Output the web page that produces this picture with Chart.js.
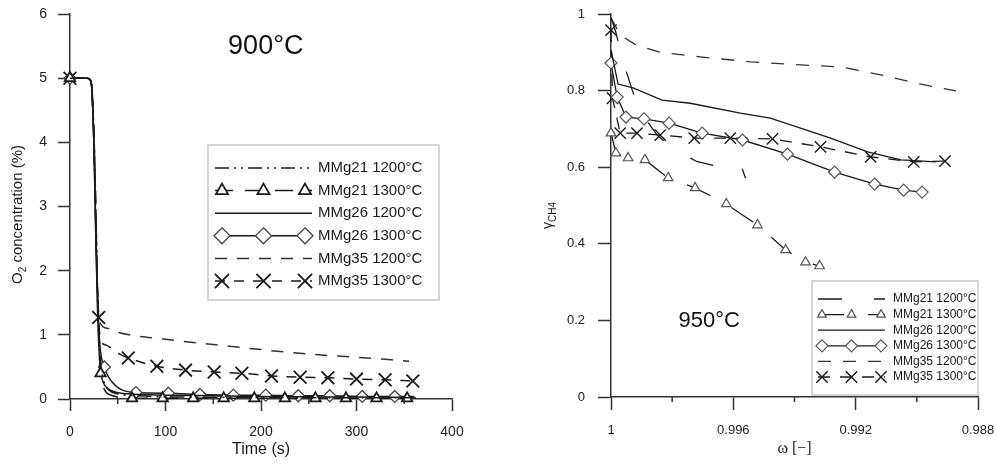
<!DOCTYPE html>
<html>
<head>
<meta charset="utf-8">
<script src="https://cdn.jsdelivr.net/npm/chart.js@4.4.1/dist/chart.umd.min.js"></script>
<style>
  html, body { margin: 0; padding: 0; background: #fff; }
  #wrap { position: relative; width: 996px; height: 464px; }
  #chartLeft { position: absolute; left: 0; top: 0; }
  #chartRight { position: absolute; left: 496px; top: 0; }
</style>
</head>
<body>
<div id="wrap">
  <canvas id="chartLeft" width="490" height="464"></canvas>
  <canvas id="chartRight" width="500" height="464"></canvas>
</div>
<script>
// ---- left panel: O2 concentration vs time (900°C) ----
const seriesLabels = ['MMg21 1200°C', 'MMg21 1300°C', 'MMg26 1200°C', 'MMg26 1300°C', 'MMg35 1200°C', 'MMg35 1300°C'];
const timeTicks = [0, 100, 200, 300, 400];
const timeMinor = [50, 150, 250, 350];
const o2Ticks = [0, 1, 2, 3, 4, 5, 6];

const t21a = [0, 18, 22, 25, 27, 29, 31, 33, 36, 40, 50, 70, 120, 200, 280, 355];
const o21a = [5.0, 5.0, 4.95, 4.2, 3.0, 1.6, 0.8, 0.45, 0.25, 0.15, 0.08, 0.05, 0.03, 0.025, 0.02, 0.02];

const t21b = [0, 18, 22, 25, 28, 30, 32, 36, 45, 65, 97, 129, 161, 193, 225, 257, 289, 321, 353];
const o21b = [5.0, 5.0, 4.95, 4.0, 2.0, 1.0, 0.4, 0.15, 0.05, 0.01, 0.01, 0.01, 0.01, 0.01, 0.01, 0.01, 0.01, 0.01, 0.01];
const m21b = [0, 32, 65, 97, 129, 161, 193, 225, 257, 289, 321, 353];

const t26a = [0, 18, 22, 25, 27, 29, 31, 33, 37, 45, 60, 100, 150, 200, 250, 300, 362];
const o26a = [5.0, 5.0, 4.95, 4.0, 2.5, 1.3, 0.6, 0.35, 0.2, 0.12, 0.08, 0.06, 0.05, 0.04, 0.035, 0.03, 0.025];

const t26b = [0, 18, 22, 25, 28, 31, 36, 45, 69, 103, 136, 171, 205, 239, 272, 306, 340, 360];
const o26b = [5.0, 5.0, 4.95, 4.0, 2.0, 0.9, 0.5, 0.25, 0.1, 0.09, 0.07, 0.06, 0.06, 0.05, 0.05, 0.04, 0.04, 0.04];
const m26b = [0, 36, 69, 103, 136, 171, 205, 239, 272, 306, 340];

const t35a = [0, 18, 22, 25, 27, 29, 31, 40, 50, 100, 150, 200, 250, 300, 355];
const o35a = [5.0, 5.0, 4.95, 4.2, 3.0, 1.6, 1.2, 1.1, 1.04, 0.93, 0.85, 0.77, 0.7, 0.65, 0.59];

const t35b = [0, 18, 22, 25, 28, 30, 32, 38, 45, 52, 61, 91, 121, 151, 180, 211, 241, 270, 300, 330, 359];
const o35b = [5.0, 5.0, 4.95, 4.0, 2.2, 1.27, 0.92, 0.84, 0.77, 0.70, 0.64, 0.51, 0.45, 0.42, 0.40, 0.36, 0.34, 0.33, 0.31, 0.30, 0.28];
const m35b = [0, 30, 61, 91, 121, 151, 180, 211, 241, 270, 300, 330, 359];

// ---- right panel: gamma CH4 vs omega (950°C) ----
const omegaTicks = [0.988, 0.992, 0.996, 1.0];
const omegaMinor = [0.990, 0.994, 0.998];
const gammaTicks = [0, 0.2, 0.4, 0.6, 0.8, 1.0];

const w21a = [1.0, 0.99985, 0.99962, 0.9993, 0.99905, 0.9985, 0.998, 0.9972, 0.9963, 0.99575, 0.9956];
const g21a = [0.99, 0.955, 0.88, 0.80, 0.745, 0.685, 0.65, 0.615, 0.598, 0.605, 0.571];

const w21b = [1.0, 0.99984, 0.99944, 0.99889, 0.99813, 0.99725, 0.99623, 0.99521, 0.99429, 0.99364, 0.99318];
const g21b = [0.689, 0.637, 0.624, 0.619, 0.572, 0.546, 0.504, 0.449, 0.384, 0.352, 0.342];

const w26a = [1.0, 0.99977, 0.99928, 0.99833, 0.99741, 0.99577, 0.99479, 0.99282, 0.99161, 0.99052, 0.98938];
const g26a = [0.906, 0.817, 0.807, 0.775, 0.767, 0.741, 0.728, 0.676, 0.640, 0.619, 0.614];

const w26b = [1.0, 0.9998, 0.99951, 0.99892, 0.9981, 0.99702, 0.9957, 0.99423, 0.99269, 0.99138, 0.99043, 0.98983];
const g26b = [0.872, 0.783, 0.731, 0.726, 0.715, 0.689, 0.671, 0.634, 0.587, 0.556, 0.540, 0.535];

const w35a = [1.0, 0.9997, 0.99918, 0.99839, 0.99708, 0.99544, 0.9938, 0.99249, 0.99118, 0.98987, 0.98872];
const g35a = [0.99, 0.945, 0.919, 0.90, 0.888, 0.875, 0.867, 0.862, 0.841, 0.817, 0.799];

const w35b = [1.0, 0.99995, 0.9997, 0.99915, 0.99839, 0.99728, 0.9961, 0.99472, 0.99315, 0.99151, 0.9901, 0.98908];
const g35b = [0.958, 0.78, 0.689, 0.689, 0.684, 0.676, 0.676, 0.674, 0.653, 0.627, 0.614, 0.616];

const FONT = 'Liberation Sans, Arial, sans-serif';
const INK = '#1a1a1a';
const AXIS = '#333';

function pts(xs, ys) { return xs.map((x, i) => ({ x: x, y: ys[i] })); }
function markAt(list, r) { return c => (c.raw && list.includes(c.raw.x) ? r : 0); }

function drawMarker(ctx, style, x, y, r) {
  ctx.beginPath();
  if (style === 'triangle') {
    ctx.moveTo(x, y - r); ctx.lineTo(x + r * 0.866, y + r * 0.5); ctx.lineTo(x - r * 0.866, y + r * 0.5);
    ctx.closePath(); ctx.fill(); ctx.stroke();
  } else if (style === 'rectRot') {
    ctx.moveTo(x, y - r); ctx.lineTo(x + r, y); ctx.lineTo(x, y + r); ctx.lineTo(x - r, y);
    ctx.closePath(); ctx.fill(); ctx.stroke();
  } else if (style === 'crossRot') {
    const d = r * 0.7071;
    ctx.moveTo(x - d, y - d); ctx.lineTo(x + d, y + d); ctx.moveTo(x + d, y - d); ctx.lineTo(x - d, y + d);
    ctx.stroke();
  }
}

// short minor ticks under the x axis
const minorTicks = {
  id: 'minorTicks',
  afterDraw(chart, args, o) {
    const s = chart.scales.x, ctx = chart.ctx;
    ctx.save();
    ctx.strokeStyle = AXIS; ctx.lineWidth = 1.5;
    o.values.forEach(v => {
      const px = s.getPixelForValue(v);
      ctx.beginPath(); ctx.moveTo(px, s.top); ctx.lineTo(px, s.top + o.length); ctx.stroke();
    });
    ctx.restore();
  }
};

// rotated y title with subscript parts
const axisLabel = {
  id: 'axisLabel',
  afterDraw(chart, args, o) {
    const ctx = chart.ctx, ca = chart.chartArea;
    ctx.save();
    ctx.translate(o.x, (ca.top + ca.bottom) / 2 + o.dy);
    ctx.rotate(-Math.PI / 2);
    ctx.fillStyle = INK; ctx.textBaseline = 'middle'; ctx.textAlign = 'left';
    let total = 0;
    o.parts.forEach(p => { ctx.font = (p.sub ? o.subSize : o.size) + 'px ' + FONT; total += ctx.measureText(p.text).width; });
    let x = -total / 2;
    o.parts.forEach(p => {
      ctx.font = (p.sub ? o.subSize : o.size) + 'px ' + FONT;
      ctx.fillText(p.text, x, p.sub ? o.size * 0.35 : 0);
      x += ctx.measureText(p.text).width;
    });
    ctx.restore();
  }
};

// temperature note placed in data coordinates
const textNote = {
  id: 'textNote',
  afterDraw(chart, args, o) {
    const ctx = chart.ctx;
    ctx.save();
    ctx.font = o.size + 'px ' + FONT; ctx.fillStyle = '#111';
    ctx.textAlign = 'center'; ctx.textBaseline = 'middle';
    ctx.fillText(o.text, chart.scales.x.getPixelForValue(o.x), chart.scales.y.getPixelForValue(o.y));
    ctx.restore();
  }
};

// boxed legend with line samples and three markers
const boxLegend = {
  id: 'boxLegend',
  afterDraw(chart, args, o) {
    const ctx = chart.ctx, ca = chart.chartArea;
    const bx = ca.left + o.left, by = ca.top + o.top;
    ctx.save();
    ctx.fillStyle = '#fff'; ctx.fillRect(bx, by, o.width, o.height);
    ctx.strokeStyle = '#c8c8c8'; ctx.lineWidth = 1.5; ctx.strokeRect(bx, by, o.width, o.height);
    chart.data.datasets.forEach((ds, i) => {
      const y = by + o.firstRow + i * o.rowGap;
      const x0 = bx + o.sampleStart, x1 = bx + o.sampleEnd;
      ctx.strokeStyle = ds.borderColor; ctx.lineWidth = ds.borderWidth;
      ctx.setLineDash(ds.borderDash || []);
      ctx.beginPath(); ctx.moveTo(x0, y); ctx.lineTo(x1, y); ctx.stroke();
      ctx.setLineDash([]);
      if (ds.pointStyle) {
        ctx.strokeStyle = ds.pointBorderColor; ctx.fillStyle = '#fff'; ctx.lineWidth = ds.pointBorderWidth;
        [x0 + o.inset, (x0 + x1) / 2, x1 - o.inset].forEach(px => drawMarker(ctx, ds.pointStyle, px, y, o.radius[ds.pointStyle]));
      }
      ctx.fillStyle = INK; ctx.font = o.font + 'px ' + FONT;
      ctx.textBaseline = 'middle'; ctx.textAlign = 'left';
      ctx.fillText(ds.label, bx + o.textX, y);
    });
    ctx.restore();
  }
};

function axisBase(fontSize, tickLen, pad) {
  return {
    grid: { display: true, drawOnChartArea: false, drawTicks: true, tickLength: tickLen, tickWidth: 1.5, tickColor: AXIS },
    border: { display: true, color: AXIS, width: 1.5 },
    ticks: { color: '#222', font: { family: FONT, size: fontSize }, padding: pad, maxRotation: 0 }
  };
}

// ---------- left chart ----------
const lx = axisBase(14, 12, 13), ly = axisBase(14, 12, 11);
new Chart(document.getElementById('chartLeft').getContext('2d'), {
  type: 'line',
  data: {
    datasets: [
      { label: seriesLabels[0], data: pts(t21a, o21a), borderColor: INK, borderWidth: 1.5,
        borderDash: [14, 5, 2, 5, 2, 5], pointRadius: 0, cubicInterpolationMode: 'monotone' },
      { label: seriesLabels[1], data: pts(t21b, o21b), borderColor: INK, borderWidth: 1.5,
        borderDash: [18, 12], pointStyle: 'triangle', pointRadius: markAt(m21b, 6),
        pointBorderColor: INK, pointBackgroundColor: '#fff', pointBorderWidth: 1.8, cubicInterpolationMode: 'monotone' },
      { label: seriesLabels[2], data: pts(t26a, o26a), borderColor: INK, borderWidth: 1.5,
        pointRadius: 0, cubicInterpolationMode: 'monotone' },
      { label: seriesLabels[3], data: pts(t26b, o26b), borderColor: INK, borderWidth: 1.5,
        pointStyle: 'rectRot', pointRadius: markAt(m26b, 6),
        pointBorderColor: '#444', pointBackgroundColor: '#fff', pointBorderWidth: 1.3, cubicInterpolationMode: 'monotone' },
      { label: seriesLabels[4], data: pts(t35a, o35a), borderColor: '#333', borderWidth: 1.5,
        borderDash: [12, 10], pointRadius: 0, cubicInterpolationMode: 'monotone' },
      { label: seriesLabels[5], data: pts(t35b, o35b), borderColor: INK, borderWidth: 1.5,
        borderDash: [10, 9], pointStyle: 'crossRot', pointRadius: markAt(m35b, 9),
        pointBorderColor: INK, pointBorderWidth: 1.8, cubicInterpolationMode: 'monotone' }
    ]
  },
  options: {
    responsive: false,
    animation: false,
    clip: false,
    layout: { padding: { top: 14, right: 38, bottom: 0, left: 0 } },
    plugins: {
      legend: { display: false },
      tooltip: { enabled: false },
      minorTicks: { values: timeMinor, length: 5 },
      axisLabel: { x: 18, dy: 8, size: 15, subSize: 10, parts: [{ text: 'O' }, { text: '2', sub: true }, { text: ' concentration (%)' }] },
      textNote: { text: '900°C', x: 205, y: 5.5, size: 27 },
      boxLegend: { left: 138, top: 131, width: 231, height: 155, firstRow: 23, rowGap: 22.6,
        sampleStart: 7, sampleEnd: 104, inset: 7, textX: 110, font: 15,
        radius: { triangle: 7, rectRot: 8, crossRot: 10 } }
    },
    scales: {
      x: Object.assign(lx, {
        type: 'linear', min: 0, max: 400,
        afterBuildTicks: s => { s.ticks = timeTicks.map(v => ({ value: v })); },
        afterFit: s => { s.height = 65; },
        title: { display: true, text: 'Time (s)', color: INK, font: { family: FONT, size: 16 }, padding: { top: 0, bottom: 5 } }
      }),
      y: Object.assign(ly, {
        type: 'linear', min: 0, max: 6,
        afterBuildTicks: s => { s.ticks = o2Ticks.map(v => ({ value: v })); },
        afterFit: s => { s.width = 70; s.paddingTop = 0; s.paddingBottom = 0; }
      })
    }
  },
  plugins: [minorTicks, axisLabel, textNote, boxLegend]
});

// ---------- right chart ----------
const rx = axisBase(13, 13, 13), ry = axisBase(13, 13, 13);
new Chart(document.getElementById('chartRight').getContext('2d'), {
  type: 'line',
  data: {
    datasets: [
      { label: seriesLabels[0], data: pts(w21a, g21a), borderColor: INK, borderWidth: 1.3,
        borderDash: [24, 32], pointRadius: 0 },
      { label: seriesLabels[1], data: pts(w21b, g21b), borderColor: INK, borderWidth: 1.3,
        borderDash: [26, 24], pointStyle: 'triangle', pointRadius: 5.5,
        pointBorderColor: '#555', pointBackgroundColor: '#fff', pointBorderWidth: 1.2 },
      { label: seriesLabels[2], data: pts(w26a, g26a), borderColor: INK, borderWidth: 1.3, pointRadius: 0 },
      { label: seriesLabels[3], data: pts(w26b, g26b), borderColor: INK, borderWidth: 1.3,
        pointStyle: 'rectRot', pointRadius: 6,
        pointBorderColor: '#555', pointBackgroundColor: '#fff', pointBorderWidth: 1.2 },
      { label: seriesLabels[4], data: pts(w35a, g35a), borderColor: '#333', borderWidth: 1.3,
        borderDash: [13, 12], pointRadius: 0 },
      { label: seriesLabels[5], data: pts(w35b, g35b), borderColor: INK, borderWidth: 1.3,
        borderDash: [12, 10], pointStyle: 'crossRot', pointRadius: 8,
        pointBorderColor: INK, pointBorderWidth: 1.4 }
    ]
  },
  options: {
    responsive: false,
    animation: false,
    clip: false,
    layout: { padding: { top: 14, right: 18, bottom: 0, left: 0 } },
    plugins: {
      legend: { display: false },
      tooltip: { enabled: false },
      minorTicks: { values: omegaMinor, length: 5 },
      axisLabel: { x: 52, dy: 10, size: 14, subSize: 10, parts: [{ text: 'γ' }, { text: 'CH4', sub: true }] },
      textNote: { text: '950°C', x: 0.99679, y: 0.198, size: 22 },
      boxLegend: { left: 201, top: 267, width: 166, height: 114, firstRow: 18, rowGap: 15.6,
        sampleStart: 6, sampleEnd: 73, inset: 4, textX: 81, font: 12,
        radius: { triangle: 5, rectRot: 6, crossRot: 8 } }
    },
    scales: {
      x: Object.assign(rx, {
        type: 'linear', min: 0.988, max: 1.0, reverse: true,
        afterBuildTicks: s => { s.ticks = omegaTicks.map(v => ({ value: v })); },
        afterFit: s => { s.height = 67; },
        ticks: Object.assign(rx.ticks, { callback: v => Number(v.toFixed(3)).toString() }),
        title: { display: true, text: 'ω [−]', color: INK, font: { family: 'Liberation Serif, serif', size: 16 }, padding: { top: 0, bottom: 6 } }
      }),
      y: Object.assign(ry, {
        type: 'linear', min: 0, max: 1,
        afterBuildTicks: s => { s.ticks = gammaTicks.map(v => ({ value: v })); },
        ticks: Object.assign(ry.ticks, { callback: v => Number(v.toFixed(1)).toString() }),
        afterFit: s => { s.width = 115; s.paddingTop = 0; s.paddingBottom = 0; }
      })
    }
  },
  plugins: [minorTicks, axisLabel, textNote, boxLegend]
});
</script>
</body>
</html>
